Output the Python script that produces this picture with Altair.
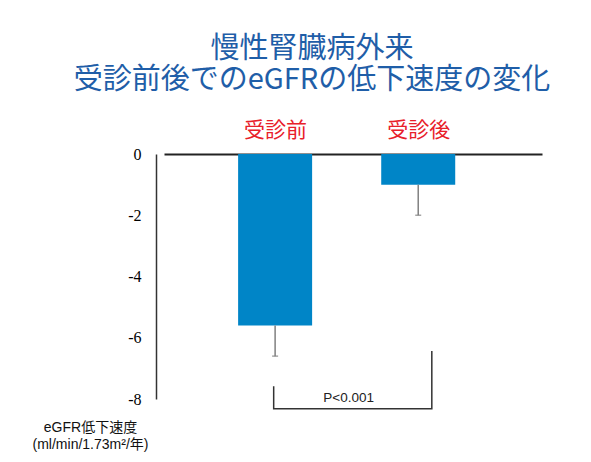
import json
import altair as alt
import pandas as pd

# ---- data ----
categories = ["受診前", "受診後"]
positions = [1, 2]
rates = [-5.6, -1.0]          # eGFR decline rate (bar ends)
lower = [-6.6, -2.0]          # lower end of error bars
y_ticks = [0, -2, -4, -6, -8]

bracket_x = [0.99, 0.99, 2.095, 2.095]
bracket_y = [-7.58, -8.32, -8.32, -6.43]
bracket_order = [0, 1, 2, 3]
p_text = ["P<0.001"]
p_x = [1.514]
p_y = [-7.97]

title_lines = ["慢性腎臓病外来", "受診前後でのeGFRの低下速度の変化"]
y_title_lines = ["eGFR低下速度", "(ml/min/1.73m²/年)"]

bars_df = pd.DataFrame({"cat": categories, "pos": positions, "rate": rates, "lower": lower})
bracket_df = pd.DataFrame({"bx": bracket_x, "by": bracket_y, "o": bracket_order})
p_df = pd.DataFrame({"t": p_text, "px": p_x, "py": p_y})

SANS = "Liberation Sans, Noto Sans CJK JP, sans-serif"
CJK = "Noto Sans CJK JP, sans-serif"
SERIF = "Liberation Serif, serif"

x_scale = alt.Scale(domain=[0.2585, 2.83], nice=False, zero=False)
y_scale = alt.Scale(domain=[-8, 0], nice=False)

label_expr = "%s[datum.value - 1]" % json.dumps(categories, ensure_ascii=False)

x_axis = alt.Axis(
    orient="top", values=positions, labelExpr=label_expr, title=None,
    ticks=False, tickSize=0, grid=False, domainColor="#222222", domainWidth=2,
    labelColor="#e8202a", labelFont=CJK, labelFontSize=21, labelPadding=14,
)
y_axis = alt.Axis(
    orient="left", values=y_ticks, offset=8, ticks=False, tickSize=0, grid=False,
    domainColor="#333333", domainWidth=1.5,
    labelExpr="toString(datum.value)",
    labelFont=SERIF, labelFontSize=16,
    labelColor="#000000", labelPadding=15,
    title=y_title_lines, titleAngle=0, titleX=-66, titleY=266,
    titleAlign="center", titleBaseline="top", titleFont=SANS, titleFontSize=14,
    titleFontWeight="normal", titleColor="#111111", titleLineHeight=17,
)

bars = alt.Chart(bars_df).mark_bar(size=74, color="#0085c7").encode(
    x=alt.X("pos:Q", scale=x_scale, axis=x_axis),
    y=alt.Y("rate:Q", scale=y_scale, axis=y_axis),
)

err = alt.Chart(bars_df).mark_rule(color="#808080", strokeWidth=1.5).encode(
    x="pos:Q", y="rate:Q", y2="lower:Q"
)
cap = alt.Chart(bars_df).mark_tick(color="#808080", orient="horizontal", size=6, thickness=1.5).encode(
    x="pos:Q", y="lower:Q"
)

bracket = alt.Chart(bracket_df).mark_line(color="#333333", strokeWidth=1.5).encode(
    x="bx:Q", y="by:Q", order="o:Q"
)

ptext = alt.Chart(p_df).mark_text(font=SANS, fontSize=13.5, color="#222222", baseline="middle").encode(
    x="px:Q", y="py:Q", text="t:N"
)

chart = alt.layer(bars, err, cap, bracket, ptext).properties(
    width=378, height=245,
    background="white",
    autosize=alt.AutoSizeParams(type="none"),
    padding={"left": 156, "top": 146, "right": 40, "bottom": 54},
    title=alt.TitleParams(
        text=title_lines, anchor="middle", dx=-41, offset=24,
        font=CJK, fontSize=29, fontWeight="normal", color="#1f5ea8", lineHeight=31,
    ),
).configure_view(stroke=None)

chart.save("out.html", embed_options={"renderer": "svg", "actions": False})
